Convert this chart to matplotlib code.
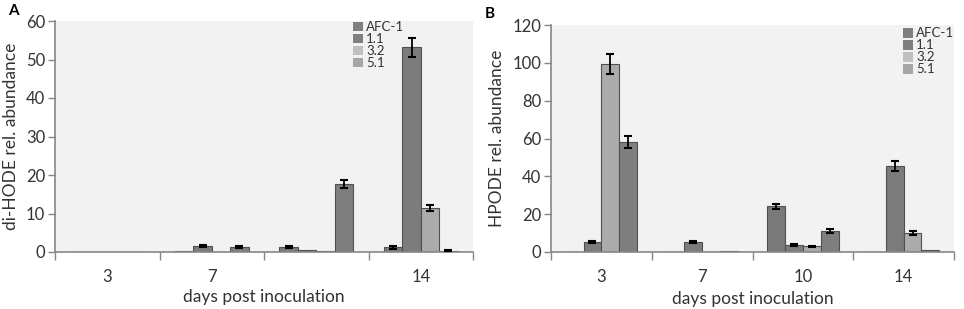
import numpy as np
import matplotlib
matplotlib.use("Agg")
import matplotlib.pyplot as plt
from matplotlib.patches import Patch

plt.rcParams['font.family'] = ['Lato', 'DejaVu Sans']

series = ['AFC-1', '1.1', '3.2', '5.1']
bar_colors = ['#7a7a7a', '#7c7c7c', '#ababab', '#7e7e7e']
legend_colors = ['#7f7f7f', '#7f7f7f', '#c0c0c0', '#a6a6a6']

# panel A: di-HODE
days_A = ['3', '7', '', '14']
vals_A = {
    'AFC-1': [0, 0.2, 1.3, 1.2],
    '1.1':   [0, 1.5, 0.6, 53.2],
    '3.2':   [0, 0.1, 0.2, 11.4],
    '5.1':   [0, 1.3, 17.6, 0.3],
}
err_A = {
    'AFC-1': [0, 0, 0.2, 0.3],
    '1.1':   [0, 0.2, 0, 2.5],
    '3.2':   [0, 0, 0, 0.7],
    '5.1':   [0, 0.2, 1.0, 0.1],
}

# panel B: HPODE
days_B = ['3', '7', '10', '14']
vals_B = {
    'AFC-1': [0, 0, 24.2, 0],
    '1.1':   [5.2, 5.3, 3.6, 45.5],
    '3.2':   [99.3, 0.2, 3.0, 10.1],
    '5.1':   [58.2, 0.6, 11.0, 1.2],
}
err_B = {
    'AFC-1': [0, 0, 1.3, 0],
    '1.1':   [0.6, 0.5, 0.5, 2.5],
    '3.2':   [5.2, 0, 0.4, 1.0],
    '5.1':   [3.0, 0, 0.9, 0],
}

axis_col = '#868686'
txt_col = '#333333'


def draw(ax, days, vals, errs, ymax, ystep, ylabel, xlab_y, ylab_x, leg_xy):
    n = len(days)
    x = np.arange(n)
    w = 0.177
    for i, s in enumerate(series):
        pos = x + (i - 1.5) * w
        v = np.array(vals[s], dtype=float)
        e = np.array(errs[s], dtype=float)
        ax.bar(pos, v, w, color=bar_colors[i], edgecolor='#505050',
               linewidth=0.8, zorder=2)
        m = e > 0
        ax.errorbar(pos[m], v[m], yerr=e[m], fmt='none', ecolor='black',
                    elinewidth=1.3, capsize=3, capthick=1.5, zorder=3)

    ax.set_facecolor('#f2f2f2')
    ax.set_xlim(-0.5, n - 0.5)
    ax.set_ylim(0, ymax)
    ax.set_yticks(np.arange(0, ymax + 1, ystep))
    ax.set_xticks(np.arange(n + 1) - 0.5)
    ax.set_xticklabels([])
    ax.set_xticks(x, minor=True)
    ax.set_xticklabels(days, minor=True)
    ax.tick_params(axis='x', which='minor', length=0, pad=12, labelsize=12,
                   labelcolor=txt_col)
    ax.tick_params(axis='x', which='major', length=6, color=axis_col, width=1)
    ax.tick_params(axis='y', length=5, color=axis_col, width=1, labelsize=12,
                   labelcolor=txt_col, pad=2)
    for sp in ['top', 'right']:
        ax.spines[sp].set_visible(False)
    for sp in ['left', 'bottom']:
        ax.spines[sp].set_color(axis_col)
        ax.spines[sp].set_linewidth(1.2)

    ax.set_ylabel(ylabel, fontsize=12.5, color=txt_col)
    ax.yaxis.set_label_coords(ylab_x, 0.5)
    ax.set_xlabel('days post inoculation', fontsize=12.5, color=txt_col)
    ax.xaxis.set_label_coords(0.5, xlab_y)

    handles = [Patch(facecolor=c, edgecolor='none') for c in legend_colors]
    ax.legend(handles, series, loc='upper left', bbox_to_anchor=leg_xy,
              frameon=False, fontsize=9.5, labelspacing=0,
              handlelength=0.75, handleheight=0.75, handletextpad=0.25,
              borderpad=0, borderaxespad=0, labelcolor=txt_col)


fig = plt.figure(figsize=(9.64, 3.09), dpi=100)
axA = fig.add_axes([55 / 964, 57 / 309, 418 / 964, 231 / 309])
axB = fig.add_axes([551 / 964, 57 / 309, 403 / 964, 227 / 309])

draw(axA, days_A, vals_A, err_A, 60, 10, 'di-HODE rel. abundance',
     -0.16, -0.085, (0.713, 1.0))
draw(axB, days_B, vals_B, err_B, 120, 20, 'HPODE rel. abundance',
     -0.172, -0.113, (0.873, 0.99))

fig.text(8 / 964, 1 - 4 / 309, 'A', fontsize=11, fontweight='bold',
         va='top', ha='left')
fig.text(485 / 964, 1 - 7 / 309, 'B', fontsize=11, fontweight='bold',
         va='top', ha='left')

fig.savefig('out.png', dpi=100)
